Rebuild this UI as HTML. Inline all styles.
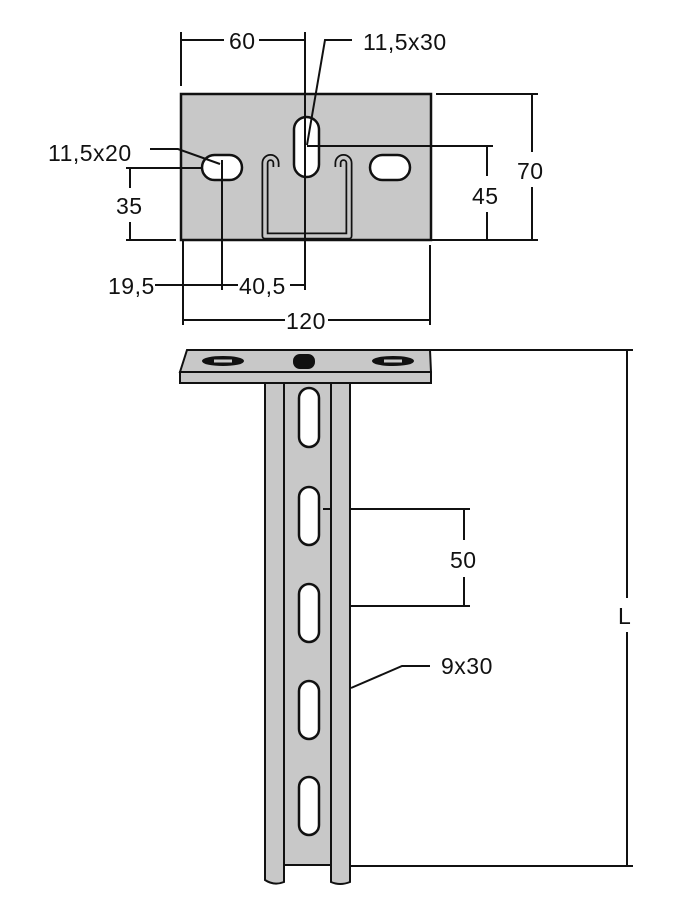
<!DOCTYPE html>
<html><head><meta charset="utf-8"><style>
html,body{margin:0;padding:0;background:#fff}
svg{display:block}
text{font-family:"Liberation Sans",sans-serif;font-size:23px;fill:#111;letter-spacing:0.5px}
</style></head><body>
<svg width="688" height="914" viewBox="0 0 688 914" xmlns="http://www.w3.org/2000/svg">
<g stroke="#111" stroke-width="2" fill="none">
<!-- top plate -->
<rect x="181" y="94" width="250" height="146" fill="#c8c8c8" stroke="#111" stroke-width="2.5"/>
<rect x="202" y="155" width="40" height="25" rx="12.5" fill="#fff" stroke-width="2.5"/>
<rect x="370" y="155" width="40" height="25" rx="12.5" fill="#fff" stroke-width="2.5"/>
<rect x="294" y="117" width="25" height="60" rx="12.5" fill="#fff" stroke-width="2.5"/>
<!-- channel profile -->
<path d="M276,167 L276,163 A5.5,5.5 0 0 0 265,163 L265,236 L349,236 L349,163 A5.5,5.5 0 0 0 338,163 L338,167" stroke-width="7" stroke-linejoin="round"/>
<path d="M276,167 L276,163 A5.5,5.5 0 0 0 265,163 L265,236 L349,236 L349,163 A5.5,5.5 0 0 0 338,163 L338,167" stroke="#c8c8c8" stroke-width="3.5" stroke-linejoin="round"/>
<!-- dims top -->
<line x1="181" y1="32" x2="181" y2="86"/>
<line x1="305" y1="32" x2="305" y2="177"/>
<line x1="181" y1="40" x2="224" y2="40"/><line x1="259" y1="40" x2="305" y2="40"/>
<polyline points="352,40 325,40 307,145"/>
<polyline points="150,149 178,149 220,164"/>
<line x1="307" y1="146" x2="493" y2="146"/>
<line x1="487" y1="146" x2="487" y2="176"/><line x1="487" y1="212" x2="487" y2="240"/>
<line x1="436" y1="94" x2="538" y2="94"/>
<line x1="532" y1="94" x2="532" y2="152"/><line x1="532" y1="187" x2="532" y2="240"/>
<line x1="431" y1="240" x2="538" y2="240"/>
<line x1="126" y1="168" x2="202" y2="168"/><line x1="126" y1="240" x2="176" y2="240"/>
<line x1="130" y1="168" x2="130" y2="188"/><line x1="130" y1="222" x2="130" y2="240"/>
<line x1="222" y1="160" x2="222" y2="290"/>
<line x1="305" y1="177" x2="305" y2="290"/>
<line x1="155" y1="285" x2="238" y2="285"/><line x1="290" y1="285" x2="305" y2="285"/>
<line x1="183" y1="240" x2="183" y2="325"/><line x1="430" y1="245" x2="430" y2="325"/>
<line x1="183" y1="320" x2="285" y2="320"/><line x1="328" y1="320" x2="430" y2="320"/>
<!-- column -->
<path d="M265,383 L265,880 Q274,886 284,882 L284,865 L331,865 L331,882 Q340,886 350,882 L350,383 Z" fill="#c8c8c8"/>
<line x1="284" y1="383" x2="284" y2="866"/><line x1="331" y1="383" x2="331" y2="866"/>
<rect x="299" y="388" width="20" height="59" rx="10" fill="#fff" stroke-width="2.5"/>
<rect x="299" y="487" width="20" height="58" rx="10" fill="#fff" stroke-width="2.5"/>
<rect x="299" y="584" width="20" height="58" rx="10" fill="#fff" stroke-width="2.5"/>
<rect x="299" y="681" width="20" height="58" rx="10" fill="#fff" stroke-width="2.5"/>
<rect x="299" y="777" width="20" height="58" rx="10" fill="#fff" stroke-width="2.5"/>
<!-- base plate -->
<polygon points="187,350 430,350 431,372 180,372" fill="#c8c8c8"/>
<rect x="180" y="372" width="251" height="11" fill="#c8c8c8"/>
<ellipse cx="223" cy="361" rx="20" ry="4" fill="#111"/>
<ellipse cx="393" cy="361" rx="20" ry="4" fill="#111"/>
<rect x="214" y="359.5" width="18" height="3" fill="#ccc" stroke="none"/>
<rect x="384" y="359.5" width="18" height="3" fill="#ccc" stroke="none"/>
<rect x="294" y="355" width="20" height="13" rx="6" fill="#111"/>
<!-- dims bottom -->
<line x1="430" y1="350" x2="633" y2="350"/>
<line x1="350" y1="866" x2="633" y2="866"/>
<line x1="627" y1="350" x2="627" y2="598"/><line x1="627" y1="632" x2="627" y2="866"/>
<line x1="323" y1="509" x2="331" y2="509"/>
<line x1="350" y1="509" x2="470" y2="509"/><line x1="350" y1="606" x2="470" y2="606"/>
<line x1="464" y1="509" x2="464" y2="540"/><line x1="464" y1="577" x2="464" y2="606"/>
<polyline points="430,666 402,666 351,688"/>
</g>
<text x="229" y="49">60</text>
<text x="363" y="50">11,5x30</text>
<text x="48" y="161">11,5x20</text>
<text x="116" y="214">35</text>
<text x="472" y="204">45</text>
<text x="517" y="179">70</text>
<text x="108" y="294">19,5</text>
<text x="239" y="294">40,5</text>
<text x="286" y="329">120</text>
<text x="450" y="568">50</text>
<text x="441" y="674">9x30</text>
<text x="618" y="624">L</text>
</svg>
</body></html>
